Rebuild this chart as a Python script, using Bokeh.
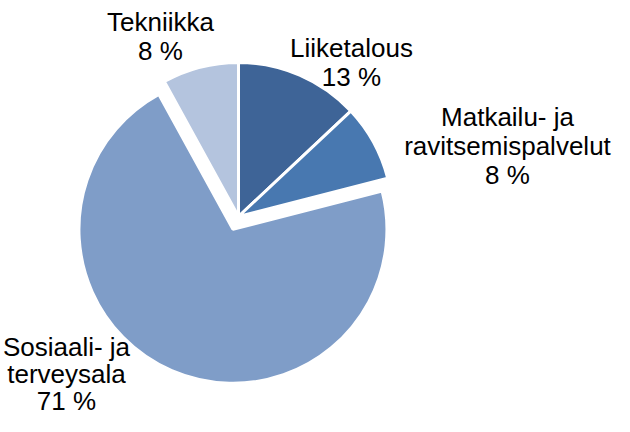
import numpy as np
from bokeh.plotting import figure
from bokeh.models import Range1d, ColumnDataSource
from bokeh.core.properties import value
from bokeh.embed import file_html
from bokeh.resources import INLINE

# ---- data ----
categories = ["Liiketalous", "Matkailu- ja ravitsemispalvelut",
              "Sosiaali- ja terveysala", "Tekniikka"]
shares = [13, 8, 71, 8]
label_lines = [["Liiketalous", "13 %"],
               ["Matkailu- ja", "ravitsemispalvelut", "8 %"],
               ["Sosiaali- ja", "terveysala", "71 %"],
               ["Tekniikka", "8 %"]]
colors = ["#3E6497", "#4878B0", "#7F9DC8", "#B4C4DE"]

# ---- layout (pixel coords from the plot's top-left, y down) ----
W, H = 614, 416
explode = [0, 0, 14, 0]
pcx, pcy, R = 238, 216, 154
label_anchor = [(351, 57), (507, 126), (66, 356), (160, 31)]  # center x, first baseline
line_steps = [29, 29, 27, 29]
baseline_fix = 10  # svg text is drawn this much below the requested alphabetic baseline

p = figure(width=W, height=H, output_backend="svg", toolbar_location=None,
           x_range=Range1d(0, W), y_range=Range1d(0, H), min_border=0)
p.axis.visible = False
p.grid.visible = False
p.outline_line_color = None
p.background_fill_color = "white"
p.border_fill_color = "white"

cx, cy = pcx, H - pcy
fr = np.array(shares, dtype=float) / sum(shares)
t2 = np.cumsum(fr) * 2 * np.pi
t1 = t2 - fr * 2 * np.pi
start = np.pi / 2 - t2
end = np.pi / 2 - t1
mid = np.pi / 2 - (t1 + t2) / 2
xs = cx + np.array(explode) * np.cos(mid)
ys = cy + np.array(explode) * np.sin(mid)

src = ColumnDataSource(dict(x=xs, y=ys, start=start, end=end, color=colors, cat=categories))
p.wedge(x="x", y="y", radius=R, start_angle="start", end_angle="end",
        fill_color="color", line_color="white", line_width=3, source=src)

tx, ty, tt = [], [], []
for (ax, ay), step, lines in zip(label_anchor, line_steps, label_lines):
    for i, ln in enumerate(lines):
        tx.append(ax)
        ty.append(H - (ay + i * step - baseline_fix))
        tt.append(ln)
p.text(x=tx, y=ty, text=tt, text_align="center", text_baseline="alphabetic",
       text_font=value("Liberation Sans"), text_font_size="26px", text_color="#000000")

open("out.html", "w").write(file_html(p, INLINE))
